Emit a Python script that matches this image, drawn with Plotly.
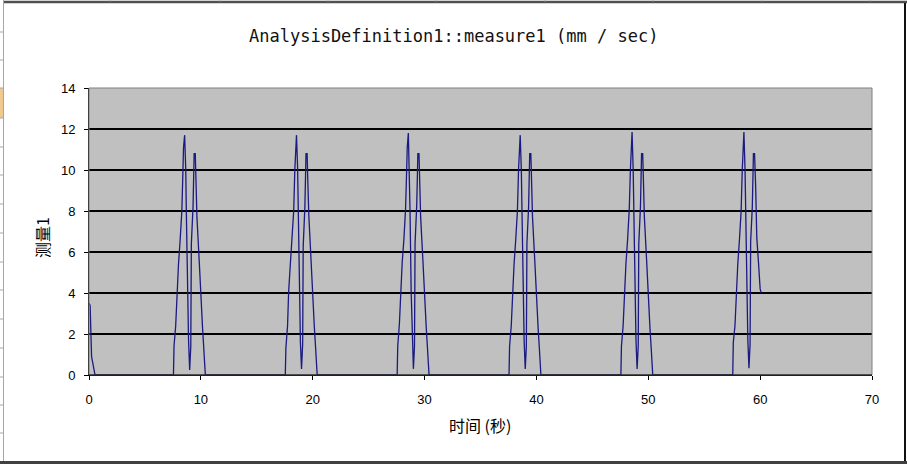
import plotly.graph_objects as go

# ---------------- data ----------------
start_t = [0.0, 0.1, 0.23, 0.54]
start_v = [3.5, 3.4, 0.9, 0.0]

c1_t = [7.55, 7.6, 7.75, 7.85, 8.0, 8.15, 8.3, 8.4, 8.45, 8.55, 8.65, 8.7, 8.8, 8.9, 9.0, 9.1, 9.15, 9.3, 9.4, 9.5, 9.55, 9.65, 9.85, 10.0, 10.15, 10.25, 10.4]
c1_v = [0, 1.4, 2.4, 4.0, 5.4, 6.6, 8.0, 10.0, 11.1, 11.7, 10.0, 8.0, 4.1, 1.7, 0.25, 1.4, 6.4, 8.2, 10.8, 10.8, 9.8, 7.7, 5.6, 3.5, 2.3, 1.4, 0]

c2_t = [17.55, 17.6, 17.75, 17.85, 18.0, 18.15, 18.3, 18.4, 18.45, 18.55, 18.65, 18.7, 18.8, 18.9, 19.0, 19.1, 19.15, 19.3, 19.4, 19.5, 19.55, 19.65, 19.85, 20.0, 20.15, 20.25, 20.4]
c2_v = [0, 1.3, 2.4, 4.1, 5.4, 6.7, 8.0, 10.0, 11.0, 11.7, 10.1, 8.1, 4.0, 1.6, 0.3, 1.5, 6.3, 8.2, 10.8, 10.8, 9.7, 7.8, 5.6, 3.5, 2.3, 1.4, 0]

c3_t = [27.55, 27.6, 27.75, 27.85, 28.0, 28.15, 28.3, 28.4, 28.45, 28.55, 28.65, 28.7, 28.8, 28.9, 29.0, 29.1, 29.15, 29.3, 29.4, 29.5, 29.55, 29.65, 29.85, 30.0, 30.15, 30.25, 30.4]
c3_v = [0, 1.4, 2.5, 4.0, 5.5, 6.6, 8.1, 10.0, 11.1, 11.8, 10.0, 8.0, 4.1, 1.7, 0.3, 1.4, 6.4, 8.3, 10.8, 10.8, 9.8, 7.7, 5.6, 3.6, 2.3, 1.4, 0]

c4_t = [37.55, 37.6, 37.75, 37.85, 38.0, 38.15, 38.3, 38.4, 38.45, 38.55, 38.65, 38.7, 38.8, 38.9, 39.0, 39.1, 39.15, 39.3, 39.4, 39.5, 39.55, 39.65, 39.85, 40.0, 40.15, 40.25, 40.4]
c4_v = [0, 1.4, 2.4, 4.0, 5.4, 6.6, 8.0, 10.0, 11.0, 11.7, 10.0, 8.0, 4.1, 1.7, 0.3, 1.4, 6.4, 8.2, 10.8, 10.8, 9.8, 7.7, 5.6, 3.5, 2.3, 1.4, 0]

c5_t = [47.55, 47.6, 47.75, 47.85, 48.0, 48.15, 48.3, 48.4, 48.45, 48.55, 48.65, 48.7, 48.8, 48.9, 49.0, 49.1, 49.15, 49.3, 49.4, 49.5, 49.55, 49.65, 49.85, 50.0, 50.15, 50.25, 50.4]
c5_v = [0, 1.4, 2.4, 4.0, 5.4, 6.6, 8.1, 10.0, 11.1, 11.85, 10.0, 8.0, 4.1, 1.7, 0.3, 1.4, 6.4, 8.2, 10.8, 10.8, 9.8, 7.7, 5.6, 3.5, 2.3, 1.4, 0]

c6_t = [57.55, 57.6, 57.75, 57.85, 58.0, 58.15, 58.3, 58.4, 58.45, 58.55, 58.65, 58.7, 58.8, 58.9, 59.0, 59.1, 59.15, 59.3, 59.4, 59.5, 59.6, 59.7, 59.85, 60.0, 60.1]
c6_v = [0, 1.6, 2.4, 4.0, 5.4, 6.6, 8.0, 10.0, 11.1, 11.85, 10.0, 8.0, 4.1, 1.7, 0.33, 1.5, 6.5, 8.2, 10.8, 10.8, 9.2, 6.7, 5.5, 4.2, 4.0]

x_ticks = [0, 10, 20, 30, 40, 50, 60, 70]
y_ticks = [0, 2, 4, 6, 8, 10, 12, 14]

title_text = "AnalysisDefinition1::measure1 (mm / sec)"
x_title = "时间 (秒)"
y_title = "测量1"

# ---------------- figure ----------------
t_all = start_t + c1_t + c2_t + c3_t + c4_t + c5_t + c6_t
v_all = start_v + c1_v + c2_v + c3_v + c4_v + c5_v + c6_v

W, H = 907, 464
L, R, T, B = 89, 872, 88, 375


def px(x):
    return (x - L) / (R - L)


def py(y):
    return (B - y) / (B - T)


fig = go.Figure()
fig.add_trace(go.Scatter(x=t_all, y=v_all, mode="lines",
                         line=dict(color="#1a1a80", width=1.3),
                         hoverinfo="skip", showlegend=False))

shapes = []
# plot-area border (gray)
shapes.append(dict(type="rect", xref="paper", yref="paper", x0=0, y0=0, x1=1, y1=1,
                   line=dict(color="#808080", width=1), layer="above"))
# bottom axis line kept black above the trace
shapes.append(dict(type="line", xref="paper", yref="paper", x0=0, x1=1, y0=0, y1=0,
                   line=dict(color="#000000", width=1), layer="above"))
# spreadsheet-ish surroundings
shapes.append(dict(type="line", xref="paper", yref="paper", x0=px(3), x1=px(907), y0=py(2), y1=py(2),
                   line=dict(color="#505050", width=2.5)))
shapes.append(dict(type="line", xref="paper", yref="paper", x0=px(3.5), x1=px(3.5), y0=py(0), y1=py(464),
                   line=dict(color="#a8a8a0", width=1)))
shapes.append(dict(type="line", xref="paper", yref="paper", x0=px(905), x1=px(905), y0=py(3), y1=py(462),
                   line=dict(color="#101010", width=2)))
shapes.append(dict(type="line", xref="paper", yref="paper", x0=px(0), x1=px(907), y0=py(462.5), y1=py(462.5),
                   line=dict(color="#404040", width=3)))
shapes.append(dict(type="rect", xref="paper", yref="paper", x0=px(0), x1=px(3), y0=py(88), y1=py(118),
                   fillcolor="#f0c890", line=dict(width=0)))
for yy in [32, 60, 88, 118, 147, 175, 204, 233, 262, 290, 319, 348, 377, 405, 433]:
    shapes.append(dict(type="line", xref="paper", yref="paper", x0=px(0), x1=px(3), y0=py(yy), y1=py(yy),
                       line=dict(color="#a8a8a0", width=1)))
for xx in [110, 220, 328, 436, 545, 653, 762, 870]:
    shapes.append(dict(type="line", xref="paper", yref="paper", x0=px(xx), x1=px(xx), y0=py(0), y1=py(1.5),
                       line=dict(color="#b0b0b0", width=1)))

annotations = [
    dict(text=title_text, xref="paper", yref="paper", x=px(453), y=py(36), showarrow=False,
         xanchor="center", yanchor="middle",
         font=dict(family="DejaVu Sans Mono", size=17, color="#111111")),
    dict(text=x_title, xref="paper", yref="paper", x=px(480), y=py(425), showarrow=False,
         xanchor="center", yanchor="middle",
         font=dict(family="Noto Sans CJK SC", size=16, color="#000000")),
    dict(text=y_title, xref="paper", yref="paper", x=px(42), y=py(238), showarrow=False,
         xanchor="center", yanchor="middle", textangle=-90,
         font=dict(family="Noto Sans CJK SC", size=16, color="#000000")),
]

fig.update_layout(
    width=W, height=H,
    margin=dict(l=L, r=W - R, t=T, b=H - B, pad=0),
    paper_bgcolor="#ffffff",
    plot_bgcolor="#c0c0c0",
    showlegend=False,
    shapes=shapes,
    annotations=annotations,
    xaxis=dict(range=[0, 70], tickvals=x_ticks, ticktext=[str(v) for v in x_ticks],
               showgrid=False, zeroline=False, showline=True, linecolor="#000000", linewidth=1,
               ticks="outside", ticklen=4, tickcolor="#000000", ticklabelstandoff=8,
               tickfont=dict(family="Liberation Sans", size=13, color="#000000")),
    yaxis=dict(range=[0, 14], tickvals=y_ticks, ticktext=[str(v) for v in y_ticks],
               showgrid=True, gridcolor="#000000", gridwidth=1.3,
               zeroline=False, showline=True, linecolor="#000000", linewidth=1,
               ticks="outside", ticklen=4, tickcolor="#000000", ticklabelstandoff=6,
               tickfont=dict(family="Liberation Sans", size=13, color="#000000")),
)

fig.write_html("out.html", config={"displayModeBar": False, "staticPlot": True},
               post_script="document.body.style.margin='0';document.body.style.overflow='hidden';")
